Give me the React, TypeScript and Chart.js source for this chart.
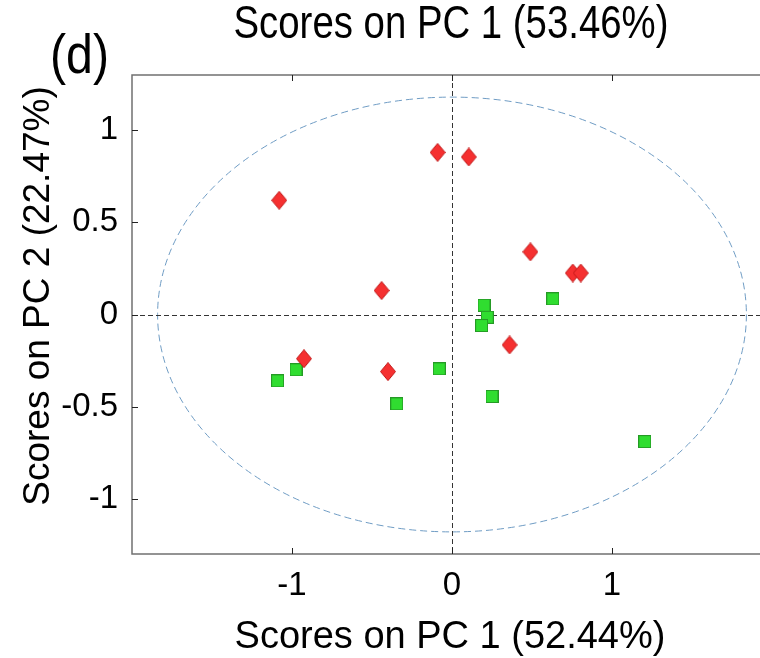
import React, { useEffect, useRef } from "react";
import { Chart, registerables } from "chart.js";

Chart.register(...registerables);

// ---- data ----
const redX = [-1.08, -0.09, 0.105, 0.49, 0.755, 0.805, -0.44, 0.36, -0.925, -0.4];
const redY = [0.62, 0.88, 0.855, 0.34, 0.225, 0.225, 0.13, -0.165, -0.24, -0.31];
const greenX = [-1.09, -0.975, -0.345, -0.08, 0.2, 0.22, 0.185, 0.63, 0.25, 1.205];
const greenY = [-0.36, -0.3, -0.485, -0.295, 0.05, -0.015, -0.06, 0.085, -0.445, -0.69];
const xTicks = [-1, 0, 1];
const yTicks = [-1, -0.5, 0, 0.5, 1];
const X_MIN = -2;
const X_MAX = 1.925;
const Y_MIN = -1.3;
const Y_MAX = 1.3;
const ELLIPSE_RX = 1.84;
const ELLIPSE_RY = 1.18;
const PANEL_LABEL = "(d)";
const TOP_TITLE = "Scores on PC 1 (53.46%)";
const X_TITLE = "Scores on PC 1 (52.44%)";
const Y_TITLE = "Scores on PC 2 (22.47%)";

const FONT = '"Liberation Sans", Arial, sans-serif';

function makeDiamond(): HTMLCanvasElement {
  const c = document.createElement("canvas");
  const w = 16, h = 19;
  c.width = w; c.height = h;
  const g = c.getContext("2d")!;
  g.beginPath();
  g.moveTo(w / 2, 0.5);
  g.lineTo(w - 0.5, h / 2);
  g.lineTo(w / 2, h - 0.5);
  g.lineTo(0.5, h / 2);
  g.closePath();
  g.fillStyle = "#f53030";
  g.fill();
  g.strokeStyle = "#c01818";
  g.lineWidth = 1;
  g.stroke();
  return c;
}

function makeSquare(): HTMLCanvasElement {
  const c = document.createElement("canvas");
  const s = 13;
  c.width = s; c.height = s;
  const g = c.getContext("2d")!;
  g.fillStyle = "#30dd30";
  g.fillRect(0.5, 0.5, s - 1, s - 1);
  g.strokeStyle = "#259a25";
  g.lineWidth = 1;
  g.strokeRect(0.5, 0.5, s - 1, s - 1);
  return c;
}

function fillStretched(ctx: CanvasRenderingContext2D, text: string, x: number, y: number, targetW: number, align: "left" | "center") {
  const w = ctx.measureText(text).width;
  const sx = targetW / w;
  ctx.save();
  ctx.translate(x, y);
  ctx.scale(sx, 1);
  ctx.textAlign = align;
  ctx.fillText(text, 0, 0);
  ctx.restore();
}

const decorPlugin = {
  id: "decor",
  beforeDatasetsDraw(chart: any) {
    const { ctx, chartArea, scales } = chart;
    const xs = scales.x, ys = scales.y;
    ctx.save();
    ctx.beginPath();
    ctx.rect(chartArea.left, chartArea.top, chartArea.right - chartArea.left, chartArea.bottom - chartArea.top);
    ctx.clip();
    const cx = xs.getPixelForValue(0), cy = ys.getPixelForValue(0);
    const rx = xs.getPixelForValue(ELLIPSE_RX) - cx;
    const ry = cy - ys.getPixelForValue(ELLIPSE_RY);
    ctx.beginPath();
    ctx.ellipse(cx, cy, rx, ry, 0, 0, Math.PI * 2);
    ctx.setLineDash([7, 4]);
    ctx.strokeStyle = "#6f9cc4";
    ctx.lineWidth = 1;
    ctx.stroke();
    ctx.setLineDash([5, 3]);
    ctx.strokeStyle = "#333";
    ctx.beginPath();
    ctx.moveTo(Math.round(cx) + 0.5, chartArea.top);
    ctx.lineTo(Math.round(cx) + 0.5, chartArea.bottom);
    ctx.moveTo(chartArea.left, Math.round(cy) + 0.5);
    ctx.lineTo(chartArea.right, Math.round(cy) + 0.5);
    ctx.stroke();
    ctx.restore();
  },
  afterDraw(chart: any) {
    const { ctx, chartArea, scales } = chart;
    const xs = scales.x, ys = scales.y;
    const L = chartArea.left, R = chartArea.right, T = chartArea.top, B = chartArea.bottom;
    ctx.save();
    ctx.strokeStyle = "#707070";
    ctx.lineWidth = 1.5;
    ctx.beginPath();
    ctx.moveTo(R + 20, T);
    ctx.lineTo(L, T);
    ctx.lineTo(L, B);
    ctx.lineTo(R + 20, B);
    ctx.stroke();
    ctx.strokeStyle = "#222";
    ctx.lineWidth = 1;
    const tl = 6;
    ctx.beginPath();
    for (const v of xTicks) {
      const px = Math.round(xs.getPixelForValue(v)) + 0.5;
      ctx.moveTo(px, B);
      ctx.lineTo(px, B - tl);
      ctx.moveTo(px, T);
      ctx.lineTo(px, T + tl);
    }
    for (const v of yTicks) {
      const py = Math.round(ys.getPixelForValue(v)) + 0.5;
      ctx.moveTo(L, py);
      ctx.lineTo(L + tl, py);
    }
    ctx.stroke();
    ctx.fillStyle = "#000";
    ctx.textBaseline = "alphabetic";
    ctx.font = `56px ${FONT}`;
    fillStretched(ctx, PANEL_LABEL, 50, 73, 59, "left");
    ctx.font = `46px ${FONT}`;
    fillStretched(ctx, TOP_TITLE, 451, 38, 435, "center");
    ctx.font = `38px ${FONT}`;
    ctx.textAlign = "center";
    ctx.fillText(X_TITLE, 450, 648);
    ctx.save();
    ctx.translate(49, 296);
    ctx.rotate(-Math.PI / 2);
    ctx.font = `37px ${FONT}`;
    ctx.fillText(Y_TITLE, 0, 0);
    ctx.restore();
    ctx.restore();
  },
};

export default function App() {
  const ref = useRef<HTMLCanvasElement>(null);
  useEffect(() => {
    document.body.style.margin = "0";
    const diamond = makeDiamond();
    const square = makeSquare();
    const chart = new Chart(ref.current!, {
      type: "scatter",
      data: {
        datasets: [
          {
            label: "A",
            data: redX.map((x, i) => ({ x, y: redY[i] })),
            pointStyle: diamond as any,
            pointRadius: 9,
          },
          {
            label: "B",
            data: greenX.map((x, i) => ({ x, y: greenY[i] })),
            pointStyle: square as any,
            pointRadius: 7,
          },
        ],
      },
      options: {
        responsive: false,
        animation: false,
        events: [],
        layout: { autoPadding: false, padding: { top: 75, left: 0, right: 0, bottom: 0 } },
        plugins: { legend: { display: false }, tooltip: { enabled: false }, title: { display: false } },
        scales: {
          x: {
            type: "linear",
            min: X_MIN,
            max: X_MAX,
            grid: { display: false, drawTicks: false },
            border: { display: false },
            ticks: {
              font: { size: 33, family: FONT }, color: "#000", padding: 12, maxRotation: 0,
              callback: (v: any) => String(v),
            },
            afterBuildTicks: (s: any) => { s.ticks = xTicks.map((v) => ({ value: v })); },
            afterFit: (s: any) => { s.height = 104; s.paddingLeft = 0; s.paddingRight = 0; },
          },
          y: {
            type: "linear",
            min: Y_MIN,
            max: Y_MAX,
            grid: { display: false, drawTicks: false },
            border: { display: false },
            ticks: {
              font: { size: 33, family: FONT }, color: "#000", padding: 14,
              callback: (v: any) => String(v),
            },
            afterBuildTicks: (s: any) => { s.ticks = yTicks.map((v) => ({ value: v })); },
            afterFit: (s: any) => { s.width = 132; s.paddingTop = 0; s.paddingBottom = 0; },
          },
        },
      },
      plugins: [decorPlugin],
    });
    return () => chart.destroy();
  }, []);
  return <canvas ref={ref} width={760} height={658} style={{ display: "block" }} />;
}
